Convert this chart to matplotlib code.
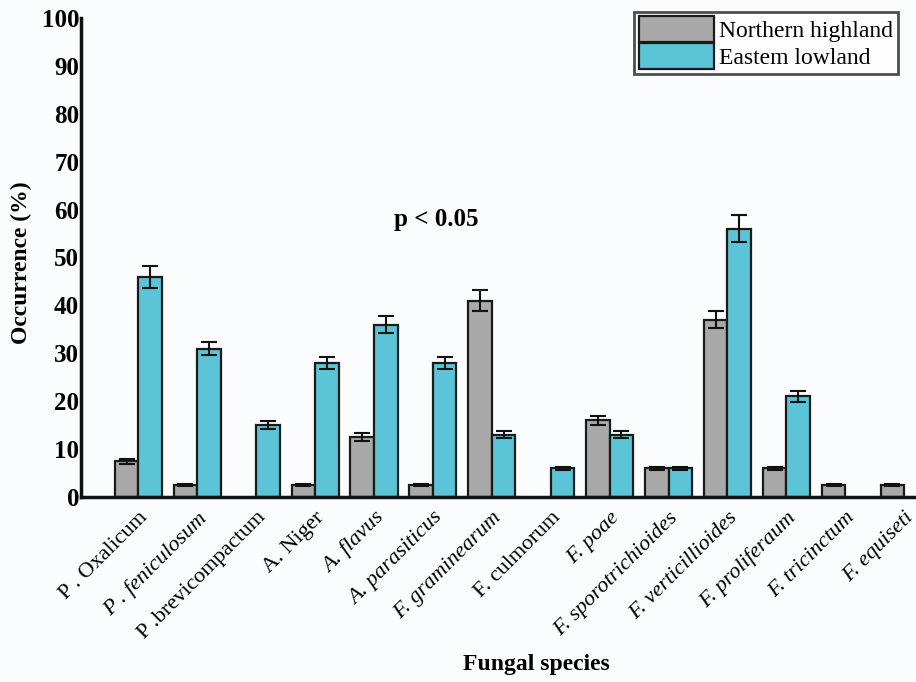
import numpy as np
import matplotlib
matplotlib.use('Agg')
import matplotlib.pyplot as plt

species = ['P . Oxalicum', 'P . feniculosum', 'P .brevicompactum', 'A. Niger',
           'A. flavus', 'A. parasiticus', 'F. graminearum', 'F. culmorum',
           'F. poae', 'F. sporotrichioides', 'F. verticillioides',
           'F. proliferaum', 'F. tricinctum', 'F. equiseti']
italic = [False, True, False, False, True, True, True, False,
          True, True, True, True, True, True]

highland = [7.5, 2.5, 0, 2.5, 12.5, 2.5, 41, 0, 16, 6, 37, 6, 2.5, 2.5]
highland_err = [0.5, 0.2, 0, 0.2, 0.8, 0.2, 2.2, 0, 0.9, 0.3, 1.8, 0.3, 0.2, 0.2]
lowland = [46, 31, 15, 28, 36, 28, 13, 6, 13, 6, 56, 21, 0, 0]
lowland_err = [2.3, 1.4, 0.8, 1.3, 1.7, 1.3, 0.7, 0.3, 0.7, 0.3, 2.8, 1.1, 0, 0]

plt.rcParams['font.family'] = ['Liberation Serif', 'DejaVu Serif']

fig = plt.figure(figsize=(9.16, 6.82), dpi=100)
fig.patch.set_facecolor('#fbfcfe')
ax = fig.add_axes([0.088, 0.271, 0.912, 0.703])
ax.set_facecolor('#fbfcfe')

x = np.arange(len(species))
w = 0.4
hi = [h if h > 0 else np.nan for h in highland]
lo = [v if v > 0 else np.nan for v in lowland]
ax.bar(x - w / 2, hi, w, color='#a9a9a9', edgecolor='#1a1a1a', linewidth=1.6,
       label='Northern highland', zorder=2)
ax.bar(x + w / 2, lo, w, color='#5bc4d6', edgecolor='#1a1a1a', linewidth=1.6,
       label='Eastem lowland', zorder=2)
ax.errorbar(x - w / 2, hi, yerr=highland_err, fmt='none', ecolor='#111111',
            elinewidth=1.5, capsize=6, capthick=1.5, zorder=3)
ax.errorbar(x + w / 2, lo, yerr=lowland_err, fmt='none', ecolor='#111111',
            elinewidth=1.5, capsize=6, capthick=1.5, zorder=3)

ax.set_xlim(-0.98, 13.2)
ax.set_ylim(0, 100)
ax.set_yticks(np.arange(0, 101, 10))
ax.tick_params(axis='both', length=0, pad=1)
for t in ax.get_yticklabels():
    t.set_fontsize(18)
    t.set_fontweight('bold')
ax.set_xticks(x)
ax.set_xticklabels(species, rotation=45, ha='right', va='top',
                   rotation_mode='anchor', fontsize=16)
for t, it in zip(ax.get_xticklabels(), italic):
    if it:
        t.set_fontstyle('italic')
ax.tick_params(axis='x', pad=8)

for s in ['top', 'right']:
    ax.spines[s].set_visible(False)
for s in ['left', 'bottom']:
    ax.spines[s].set_linewidth(2.5)
    ax.spines[s].set_color('#111111')

ax.set_ylabel('Occurrence (%)', fontsize=17, fontweight='bold')
ax.yaxis.set_label_coords(-0.058, 0.49)
ax.set_xlabel('Fungal species', fontsize=17, fontweight='bold')
ax.xaxis.set_label_coords(0.546, -0.328)

ax.text(5.05, 56.5, 'p < 0.05', fontsize=18, fontweight='bold', ha='center')

leg = ax.legend(loc='upper right', bbox_to_anchor=(0.978, 1.0125), fontsize=17,
                frameon=True, fancybox=False, edgecolor='#222222',
                handlelength=3.2, handleheight=1.3, handletextpad=0.2,
                borderpad=0.2, labelspacing=0.05, borderaxespad=0)
leg.get_frame().set_linewidth(2)

fig.savefig('out.png', dpi=100, facecolor=fig.get_facecolor())
